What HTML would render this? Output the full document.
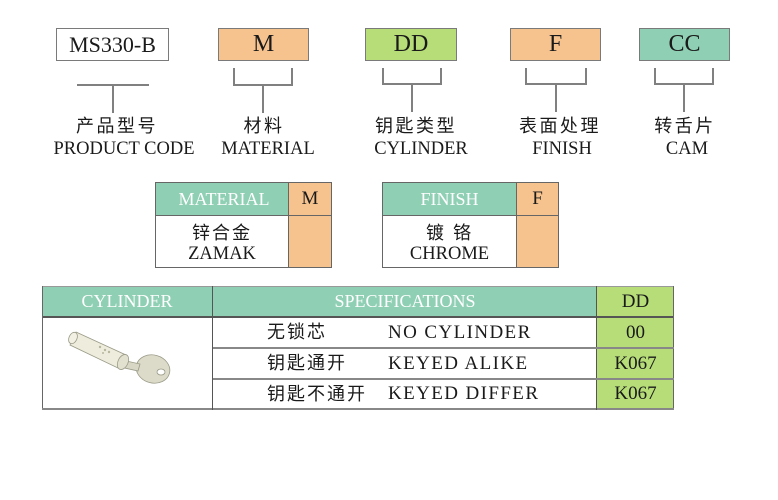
<!DOCTYPE html>
<html><head><meta charset="utf-8">
<style>
*{margin:0;padding:0;box-sizing:border-box}
body{width:778px;height:500px;background:#fff;position:relative;overflow:hidden;font-family:"Liberation Serif","Noto Serif CJK SC",serif;color:#1a1a1a}
.a{position:absolute}
.box{position:absolute;top:28px;height:33px;border:1px solid #7a7a7a;text-align:center;line-height:31px;font-size:24px}
.ln{position:absolute;background:#808080}
.cj{position:absolute;top:114px;height:24px;line-height:24px;text-align:center;font-family:"Liberation Sans","Noto Sans CJK SC",sans-serif;font-size:18px;letter-spacing:2.5px;white-space:nowrap}
.en{position:absolute;top:138px;height:22px;line-height:22px;text-align:center;font-size:18.5px;white-space:nowrap}
.c{position:absolute;text-align:center;white-space:nowrap}
.teal{background:#8fcfb4}
.org{background:#f6c38f}
.grn{background:#b7dd78}
.sans{font-family:"Liberation Sans","Noto Sans CJK SC",sans-serif}
</style></head><body>

<!-- top boxes -->
<div class="box" style="left:56px;width:113px;background:#fff;font-size:22px">MS330-B</div>
<div class="box org" style="left:218px;width:91px">M</div>
<div class="box grn" style="left:365px;width:92px">DD</div>
<div class="box org" style="left:510px;width:91px">F</div>
<div class="box teal" style="left:639px;width:91px">CC</div>

<!-- brackets -->
<div class="ln" style="left:77px;top:84px;width:72px;height:2px"></div>
<div class="ln" style="left:112px;top:84px;width:2px;height:29px"></div>

<div class="ln" style="left:233px;top:68px;width:2px;height:18px"></div>
<div class="ln" style="left:291px;top:68px;width:2px;height:18px"></div>
<div class="ln" style="left:233px;top:84px;width:60px;height:2px"></div>
<div class="ln" style="left:262px;top:84px;width:2px;height:29px"></div>

<div class="ln" style="left:382px;top:68px;width:2px;height:17px"></div>
<div class="ln" style="left:440px;top:68px;width:2px;height:17px"></div>
<div class="ln" style="left:382px;top:83px;width:60px;height:2px"></div>
<div class="ln" style="left:411px;top:83px;width:2px;height:29px"></div>

<div class="ln" style="left:525px;top:68px;width:2px;height:17px"></div>
<div class="ln" style="left:585px;top:68px;width:2px;height:17px"></div>
<div class="ln" style="left:525px;top:83px;width:62px;height:2px"></div>
<div class="ln" style="left:555px;top:83px;width:2px;height:29px"></div>

<div class="ln" style="left:654px;top:68px;width:2px;height:17px"></div>
<div class="ln" style="left:712px;top:68px;width:2px;height:17px"></div>
<div class="ln" style="left:654px;top:83px;width:60px;height:2px"></div>
<div class="ln" style="left:683px;top:83px;width:2px;height:29px"></div>

<!-- labels -->
<div class="cj" style="left:57px;width:120px">产品型号</div>
<div class="en" style="left:44px;width:160px">PRODUCT CODE</div>
<div class="cj" style="left:224px;width:80px">材料</div>
<div class="en" style="left:213px;width:110px">MATERIAL</div>
<div class="cj" style="left:366px;width:100px">钥匙类型</div>
<div class="en" style="left:366px;width:110px">CYLINDER</div>
<div class="cj" style="left:510px;width:100px">表面处理</div>
<div class="en" style="left:512px;width:100px">FINISH</div>
<div class="cj" style="left:645px;width:80px">转舌片</div>
<div class="en" style="left:647px;width:80px">CAM</div>

<!-- material table -->
<div class="a" style="left:155px;top:182px;width:177px;height:86px;border:1px solid #666"></div>
<div class="a teal" style="left:156px;top:183px;width:132px;height:33px"></div>
<div class="a org" style="left:288px;top:183px;width:43px;height:84px"></div>
<div class="a" style="left:156px;top:215px;width:175px;height:1px;background:#666"></div>
<div class="a" style="left:288px;top:183px;width:1px;height:84px;background:#666"></div>
<div class="c" style="left:160px;top:186px;width:128px;line-height:26px;font-size:18px;color:#fff">MATERIAL</div>
<div class="c" style="left:289px;top:186px;width:42px;line-height:26px;font-size:19px">M</div>
<div class="c sans" style="left:156px;top:221px;width:132px;line-height:24px;font-size:18px;letter-spacing:2px">锌合金</div>
<div class="c" style="left:156px;top:243px;width:132px;line-height:22px;font-size:18.5px">ZAMAK</div>

<!-- finish table -->
<div class="a" style="left:382px;top:182px;width:177px;height:86px;border:1px solid #666"></div>
<div class="a teal" style="left:383px;top:183px;width:133px;height:33px"></div>
<div class="a org" style="left:516px;top:183px;width:42px;height:84px"></div>
<div class="a" style="left:383px;top:215px;width:175px;height:1px;background:#666"></div>
<div class="a" style="left:516px;top:183px;width:1px;height:84px;background:#666"></div>
<div class="c" style="left:383px;top:186px;width:133px;line-height:26px;font-size:18px;color:#fff">FINISH</div>
<div class="c" style="left:517px;top:186px;width:41px;line-height:26px;font-size:19px">F</div>
<div class="c sans" style="left:383px;top:221px;width:133px;line-height:24px;font-size:18px;letter-spacing:2px">镀 铬</div>
<div class="c" style="left:383px;top:243px;width:133px;line-height:22px;font-size:18.5px">CHROME</div>

<!-- big table -->
<div class="a teal" style="left:42px;top:286px;width:555px;height:31px"></div>
<div class="a grn" style="left:597px;top:286px;width:77px;height:124px"></div>
<div class="a" style="left:42px;top:286px;width:632px;height:1px;background:#999"></div>
<div class="a" style="left:42px;top:316px;width:632px;height:2px;background:#555"></div>
<div class="a" style="left:42px;top:286px;width:1px;height:124px;background:#666"></div>
<div class="a" style="left:673px;top:286px;width:1px;height:124px;background:#666"></div>
<div class="a" style="left:42px;top:408px;width:632px;height:2px;background:#888"></div>
<div class="a" style="left:212px;top:286px;width:1px;height:124px;background:#555"></div>
<div class="a" style="left:596px;top:286px;width:1px;height:124px;background:#555"></div>
<div class="a" style="left:213px;top:347px;width:461px;height:2px;background:#888"></div>
<div class="a" style="left:213px;top:378px;width:461px;height:2px;background:#888"></div>

<div class="c" style="left:42px;top:287px;width:170px;line-height:29px;font-size:18px;color:#fff">CYLINDER</div>
<div class="c" style="left:213px;top:287px;width:384px;line-height:29px;font-size:18px;color:#fff">SPECIFICATIONS</div>
<div class="c" style="left:597px;top:287px;width:77px;line-height:29px;font-size:19px">DD</div>

<div class="c sans" style="left:267px;top:318px;line-height:29px;font-size:18px;letter-spacing:2px">无锁芯</div>
<div class="c sans" style="left:267px;top:349px;line-height:29px;font-size:18px;letter-spacing:2px">钥匙通开</div>
<div class="c sans" style="left:267px;top:380px;line-height:28px;font-size:18px;letter-spacing:2px">钥匙不通开</div>
<div class="c" style="left:388px;top:318px;line-height:29px;font-size:19px;letter-spacing:1.4px">NO CYLINDER</div>
<div class="c" style="left:388px;top:349px;line-height:29px;font-size:19px;letter-spacing:1.4px">KEYED ALIKE</div>
<div class="c" style="left:388px;top:380px;line-height:28px;font-size:19px;letter-spacing:1.4px">KEYED DIFFER</div>
<div class="c" style="left:597px;top:318px;width:77px;line-height:29px;font-size:19px">00</div>
<div class="c" style="left:597px;top:349px;width:77px;line-height:29px;font-size:19px">K067</div>
<div class="c" style="left:597px;top:380px;width:77px;line-height:28px;font-size:19px">K067</div>

<!-- key image -->
<svg class="a" style="left:60px;top:320px" width="120" height="80" viewBox="0 0 120 80">
  <g stroke="#9a9a88" stroke-width="0.8" fill="#e6e4d2">
    <ellipse cx="93" cy="49" rx="17" ry="14" transform="rotate(15 93 49)" fill="#dcdac8"/>
    <ellipse cx="101" cy="52" rx="4" ry="3" fill="#fff"/>
    <polygon points="62,40 80,44 78,51 60,47" fill="#d8d6c4"/>
    <polygon points="16,12 66,35 60,49 10,25" fill="#eeecdc"/>
    <ellipse cx="63" cy="42" rx="5" ry="8" transform="rotate(25 63 42)" fill="#e2e0ce"/>
    <ellipse cx="13" cy="18" rx="4" ry="6" transform="rotate(25 13 18)" fill="#f2f0e2"/>
  </g>
  <g fill="#b8b69e">
    <circle cx="40" cy="27" r="1.2"/><circle cx="45" cy="30" r="1.2"/><circle cx="49" cy="32" r="1.2"/><circle cx="43" cy="33" r="1"/>
  </g>
</svg>

</body></html>
